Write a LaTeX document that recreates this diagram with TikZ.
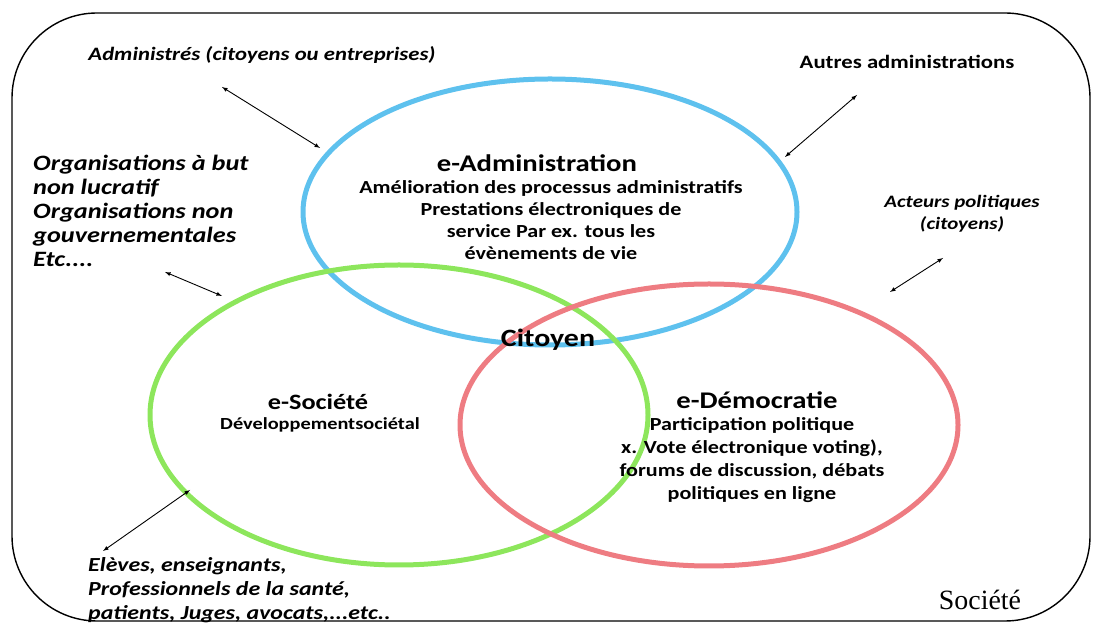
\documentclass[tikz,border=0pt]{standalone}
\usepackage{fontspec}
\setmainfont{Carlito}[FakeStretch=1.2]
\newfontfamily\serifsoc{Liberation Serif}
\definecolor{adminblue}{HTML}{5EC1EE}
\definecolor{socgreen}{HTML}{8DE65C}
\definecolor{demored}{HTML}{EE7C82}
\begin{document}
\begin{tikzpicture}[>=latex,line join=bevel,
  actor/.style={inner sep=0pt,font=\bfseries\itshape\fontsize{19}{23}\selectfont},
  title/.style={inner sep=0pt,font=\bfseries\fontsize{24}{26}\selectfont},
  body/.style={inner sep=0pt,align=center,font=\bfseries\fontsize{18.5}{22}\selectfont},
  link/.style={<->,line width=0.9bp},
  circ/.style={line width=5bp}]
%%
\useasboundingbox (0bp,0bp) rectangle (1104bp,627bp);
\draw [line width=1.4bp,rounded corners=85bp] (12bp,6bp) rectangle (1090bp,614bp);
%
\draw [circ,adminblue] (550bp,415bp) ellipse [x radius=247bp,y radius=133bp];
\draw [circ,socgreen] (399bp,212bp) ellipse [x radius=249bp,y radius=150bp];
\draw [circ,demored] (709bp,202bp) ellipse [x radius=249bp,y radius=141bp];
%
\node (node_0) at (537bp,464bp) [title] {e-Administration};
  \node (node_1) at (551bp,407bp) [body] {Amélioration des processus administratifs\\Prestations électroniques de\\service Par ex. tous les\\évènements de vie};
  \node (node_2) at (548bp,287bp) [title,font=\bfseries\fontsize{25}{26}\selectfont] {Citoyen};
  \node (node_3) at (318bp,225bp) [title,font=\bfseries\fontsize{22}{26}\selectfont] {e-Société};
  \node (node_4) at (320bp,202bp) [body,font=\bfseries\fontsize{17}{22}\selectfont] {Développementsociétal};
  \node (node_5) at (757bp,227bp) [title] {e-Démocratie};
  \node (node_6) at (752bp,167bp) [body,font=\bfseries\fontsize{18.5}{23}\selectfont] {Participation politique\\x. Vote électronique voting),\\forums de discussion, débats\\politiques en ligne};
%
\node (node_7) at (262bp,572bp) [actor] {Administrés (citoyens ou entreprises)};
  \node (node_8) at (907bp,565bp) [inner sep=0pt,font=\bfseries\fontsize{19}{23}\selectfont] {Autres administrations};
  \node (node_9) at (33bp,416bp) [actor,anchor=west,align=left,font=\bfseries\itshape\fontsize{22}{24}\selectfont] {Organisations à but\\non lucratif\\Organisations non\\gouvernementales\\Etc....};
  \node (node_10) at (962bp,413bp) [actor,align=center,font=\bfseries\itshape\fontsize{17.5}{22}\selectfont] {Acteurs politiques\\(citoyens)};
  \node (node_11) at (88bp,37bp) [actor,anchor=west,align=left,font=\bfseries\itshape\fontsize{20}{24}\selectfont] {Elèves, enseignants,\\Professionnels de la santé,\\patients, Juges, avocats,...etc..};
  \node (node_12) at (980bp,27bp) [inner sep=0pt,font=\serifsoc\fontsize{28}{30}\selectfont] {Société};
%
\coordinate (end_7) at (222bp,540bp); \coordinate (end_7b) at (320bp,479bp);
  \coordinate (end_8) at (857bp,532bp); \coordinate (end_8b) at (785bp,470bp);
  \coordinate (end_9) at (165bp,355bp); \coordinate (end_9b) at (222bp,331bp);
  \coordinate (end_10) at (943bp,369bp); \coordinate (end_10b) at (890bp,335bp);
  \coordinate (end_11) at (103bp,76bp); \coordinate (end_11b) at (190bp,137bp);
  \draw [link] (end_7) -- (end_7b);
  \draw [link] (end_8) -- (end_8b);
  \draw [link] (end_9) -- (end_9b);
  \draw [link] (end_10) -- (end_10b);
  \draw [link] (end_11) -- (end_11b);
%
\end{tikzpicture}
\end{document}
